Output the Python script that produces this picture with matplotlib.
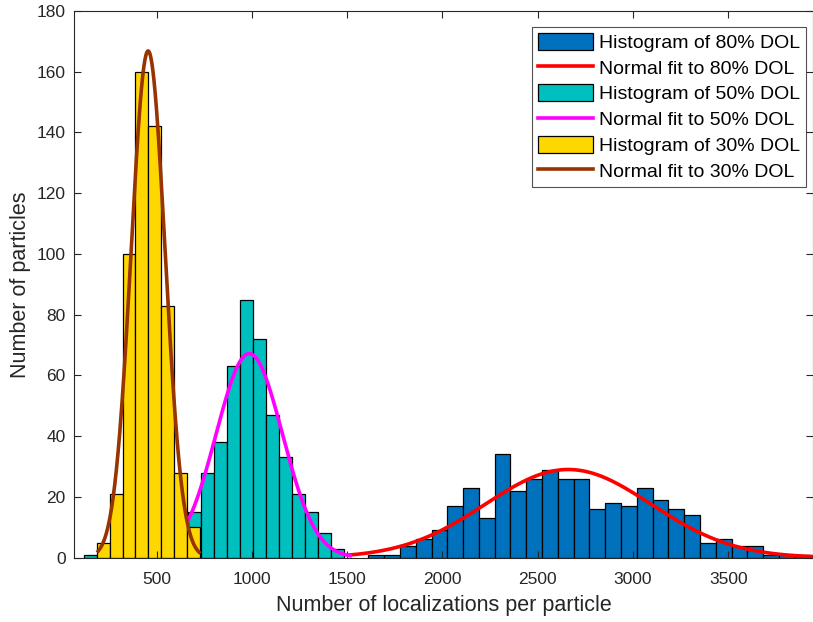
import numpy as np
import matplotlib
matplotlib.use("Agg")
import matplotlib.pyplot as plt

plt.rcParams['font.family'] = ['Liberation Sans', 'DejaVu Sans']

# histogram counts per bin (left edge of first bin + bin width)
dol80_start, dol80_width = 1611, 82.9
dol80_counts = [1, 1, 4, 6, 9, 17, 23, 13, 34, 22, 26, 29, 26, 26,
                16, 18, 17, 23, 19, 16, 14, 5, 6, 4, 4, 1, 1, 1]

dol50_start, dol50_width = 118, 68.3
dol50_counts = [1, 0, 0, 0, 0, 0, 0, 0, 15, 28, 38, 63, 85, 72, 47,
                33, 21, 15, 8, 3]

dol30_start, dol30_width = 185, 67.8
dol30_counts = [5, 21, 100, 160, 142, 83, 28, 10]

# normal fits: mean, sigma, plotted range
fit80 = dict(mu=2660, sigma=435, lo=1515, hi=3945)
fit50 = dict(mu=986, sigma=174, lo=666, hi=1515)
fit30 = dict(mu=455, sigma=89, lo=193, hi=723)

labels = ['Histogram of 80% DOL', 'Normal fit to 80% DOL',
          'Histogram of 50% DOL', 'Normal fit to 50% DOL',
          'Histogram of 30% DOL', 'Normal fit to 30% DOL']


def fit_curve(fit, counts, width):
    x = np.linspace(fit['lo'], fit['hi'], 300)
    area = sum(counts) * width
    y = area * np.exp(-(x - fit['mu'])**2 / (2 * fit['sigma']**2)) / (fit['sigma'] * np.sqrt(2 * np.pi))
    return x, y


def draw_hist(ax, start, width, counts, color, label):
    edges = start + width * np.arange(len(counts))
    return ax.bar(edges, counts, width=width, align='edge', color=color,
                  edgecolor='black', linewidth=0.9, label=label)


fig = plt.figure(figsize=(8.13, 6.22), dpi=100)
ax = fig.add_axes([74/813, 1 - 557.7/622, 1 - 74/813, (557.7 - 11)/622])

handles = []
handles.append(draw_hist(ax, dol80_start, dol80_width, dol80_counts, '#0072BD', labels[0]))
x, y = fit_curve(fit80, dol80_counts, dol80_width)
handles += ax.plot(x, y, color='#FF0000', lw=2.6, label=labels[1])

handles.append(draw_hist(ax, dol50_start, dol50_width, dol50_counts, '#00BFBF', labels[2]))
x, y = fit_curve(fit50, dol50_counts, dol50_width)
handles += ax.plot(x, y, color='#FF00FF', lw=2.6, label=labels[3])

handles.append(draw_hist(ax, dol30_start, dol30_width, dol30_counts, '#FFD700', labels[4]))
x, y = fit_curve(fit30, dol30_counts, dol30_width)
handles += ax.plot(x, y, color='#993300', lw=2.6, label=labels[5])

ax.set_xlim(66, 3945)
ax.set_ylim(0, 180)
ax.set_xticks(np.arange(500, 4000, 500))
ax.set_yticks(np.arange(0, 181, 20))
ax.tick_params(direction='in', top=True, right=True, length=5,
               labelsize=12.5, colors='#262626')
ax.tick_params(axis='x', pad=10)
ax.tick_params(axis='y', pad=6)
for s in ax.spines.values():
    s.set_color('#262626')
    s.set_linewidth(0.8)

ax.set_xlabel('Number of localizations per particle', fontsize=15.5,
              color='#262626', labelpad=6)
ax.set_ylabel('Number of particles', fontsize=15.5, color='#262626', labelpad=4)

leg = ax.legend(handles, labels, loc='upper right', bbox_to_anchor=(0.9905, 0.9713),
                fontsize=14, frameon=True, fancybox=False,
                edgecolor='#262626', handlelength=2.85, handleheight=1.0,
                labelspacing=0.33, borderaxespad=0.0, handletextpad=0.3,
                borderpad=0.3)
leg.get_frame().set_linewidth(0.8)

fig.savefig('out.png', dpi=100)
